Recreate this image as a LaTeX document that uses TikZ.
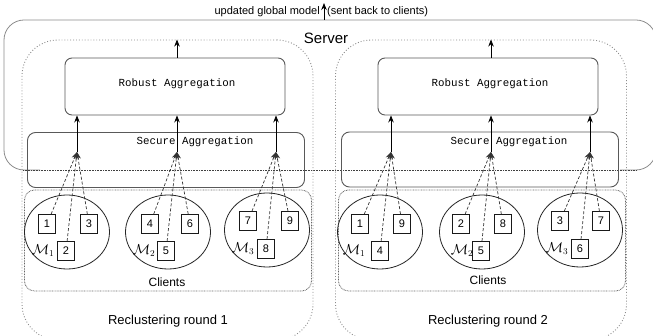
\documentclass[tikz,border=0pt]{standalone}
\usepackage{fontspec}
\setmainfont{Liberation Sans}
\newfontfamily\aggfont{Liberation Mono}
\usetikzlibrary{arrows.meta,shapes.geometric}
\begin{document}
\begin{tikzpicture}[x=1pt,y=-1pt,
  arr/.style={-{Stealth[length=7pt,width=5.5pt]}, line width=0.8pt, draw=black},
  darr/.style={-{Stealth[length=7pt,width=5.5pt]}, dash pattern=on 3pt off 2pt, line width=0.7pt, draw=black!80},
  robustbox/.style={draw=black!65, line width=0.9pt, rounded corners=7pt, minimum width=220pt, minimum height=57pt, inner sep=0pt},
  securebox/.style={draw=black!65, line width=0.9pt, rounded corners=8pt, minimum width=277pt, minimum height=55pt, inner sep=0pt},
  aggtext/.style={font=\aggfont\fontsize{10.8}{13}\selectfont, inner sep=0pt},
  roundbox/.style={draw=black!45, dotted, line width=0.9pt, rounded corners=36pt, minimum width=291pt, minimum height=300pt, inner sep=0pt},
  clientbox/.style={draw=black!60, dash pattern=on 0.8pt off 0.8pt, line width=0.8pt, rounded corners=10pt, minimum width=287pt, minimum height=101pt, inner sep=0pt},
  cluster/.style={ellipse, draw=black!85, line width=0.8pt, minimum width=85pt, minimum height=74pt, inner sep=0pt},
  client/.style={draw=black!90, line width=0.8pt, fill=white, minimum width=17pt, minimum height=19pt, inner sep=0pt, font=\fontsize{11}{13}\selectfont},
  mlabel/.style={inner sep=0pt, font=\fontsize{13.5}{15}\selectfont},
  plain/.style={inner sep=0pt}
]
\useasboundingbox (0,0) rectangle (653,336);
\clip (0,0) rectangle (653,336);

% Server
\draw[draw=black!45, line width=0.8pt, rounded corners=20pt]
  (40,170) -- (4,170) -- (4,20) -- (656,20) -- (656,170) -- (620,170);
\draw[draw=black!75, dash pattern=on 0.8pt off 0.8pt, line width=0.8pt] (23,170) -- (637,170);
\node[plain, font=\fontsize{15}{17}\selectfont] (server) at (326,38) {Server};

% top output arrow
\coordinate (srvtop) at (324,20);
\coordinate (outtop) at (324,3);
\draw[arr] (srvtop) -- (outtop);
\node[plain, anchor=east, font=\fontsize{11}{13}\selectfont] (upd) at (320,12) {updated global model};
\node[plain, anchor=west, font=\fontsize{11}{13}\selectfont] (sent) at (327,12) {(sent back to clients)};

% Reclustering rounds
\node[roundbox] (rc1) at (167.5,190) {};
\node[roundbox] (rc2) at (481,190) {};
\node[plain, font=\fontsize{13}{15}\selectfont] (rc1t) at (168,321) {Reclustering round 1};
\node[plain, font=\fontsize{13}{15}\selectfont] (rc2t) at (488,321) {Reclustering round 2};

% Robust aggregation
\node[robustbox] (ra1) at (175,86.5) {};
\node[robustbox] (ra2) at (488,86.5) {};
\node[aggtext] (ra1t) at (177,84) {Robust Aggregation};
\node[aggtext] (ra2t) at (490,84) {Robust Aggregation};
\draw[arr] (ra1.north -| 177,0) -- (rc1.north -| 177,0);
\draw[arr] (ra2.north -| 491,0) -- (rc2.north -| 491,0);

% Secure aggregation
\node[securebox] (sa1) at (166,160) {};
\node[securebox] (sa2) at (480,159.5) {};
\node[aggtext] (sa1t) at (195,142) {Secure Aggregation};
\node[aggtext] (sa2t) at (509,142) {Secure Aggregation};

% Client boxes
\node[clientbox] (cb1) at (168,240.5) {};
\node[clientbox] (cb2) at (482,240.5) {};
\node[plain, font=\fontsize{12}{14}\selectfont] (cl1) at (167,282) {Clients};
\node[plain, font=\fontsize{12}{14}\selectfont] (cl2) at (488,280) {Clients};

% clusters round 1
\node[cluster] (c11) at (67,232) {};
\node[cluster] (c12) at (168,232) {};
\node[cluster] (c13) at (267,230) {};
% clusters round 2
\node[cluster] (c21) at (380,232) {};
\node[cluster] (c22) at (482,232) {};
\node[cluster] (c23) at (580,230) {};

% junctions
\coordinate (j11) at (77,152);
\coordinate (j12) at (177,152);
\coordinate (j13) at (276,152);
\coordinate (j21) at (391,152);
\coordinate (j22) at (491,152);
\coordinate (j23) at (590,152);

% round 1 clients
\node[client] (a1) at (47,224) {1};
\node[client] (a3) at (89,224) {3};
\node[client] (a2) at (66,251) {2};
\node[mlabel] (m11) at (43,251) {$\mathcal{M}_1$};
\node[client] (a4) at (150,224) {4};
\node[client] (a6) at (190,224) {6};
\node[client] (a5) at (166,251) {5};
\node[mlabel] (m12) at (144,251) {$\mathcal{M}_2$};
\node[client] (a7) at (248,221) {7};
\node[client] (a9) at (290,221) {9};
\node[client] (a8) at (266,249) {8};
\node[mlabel] (m13) at (243,249) {$\mathcal{M}_3$};

% round 2 clients
\node[client] (b1) at (360,224) {1};
\node[client] (b9) at (402,224) {9};
\node[client] (b4) at (380,251) {4};
\node[mlabel] (m21) at (354,251) {$\mathcal{M}_1$};
\node[client] (b2) at (461,224) {2};
\node[client] (b8) at (503,224) {8};
\node[client] (b5) at (481,251) {5};
\node[mlabel] (m22) at (462,251) {$\mathcal{M}_2$};
\node[client] (b3) at (560,221) {3};
\node[client] (b7) at (601,221) {7};
\node[client] (b6) at (580,249) {6};
\node[mlabel] (m23) at (557,249) {$\mathcal{M}_3$};

% dashed arrows
\foreach \s/\j in {a1/j11,a2/j11,a3/j11,a4/j12,a5/j12,a6/j12,a7/j13,a8/j13,a9/j13,
                   b1/j21,b4/j21,b9/j21,b2/j22,b5/j22,b8/j22,b3/j23,b6/j23,b7/j23}
  \draw[darr] (\s) -- (\j);

% solid arrows to robust aggregation
\draw[arr] (j11) -- (ra1.south -| j11);
\draw[arr] (j12) -- (ra1.south -| j12);
\draw[arr] (j13) -- (ra1.south -| j13);
\draw[arr] (j21) -- (ra2.south -| j21);
\draw[arr] (j22) -- (ra2.south -| j22);
\draw[arr] (j23) -- (ra2.south -| j23);
\end{tikzpicture}
\end{document}
